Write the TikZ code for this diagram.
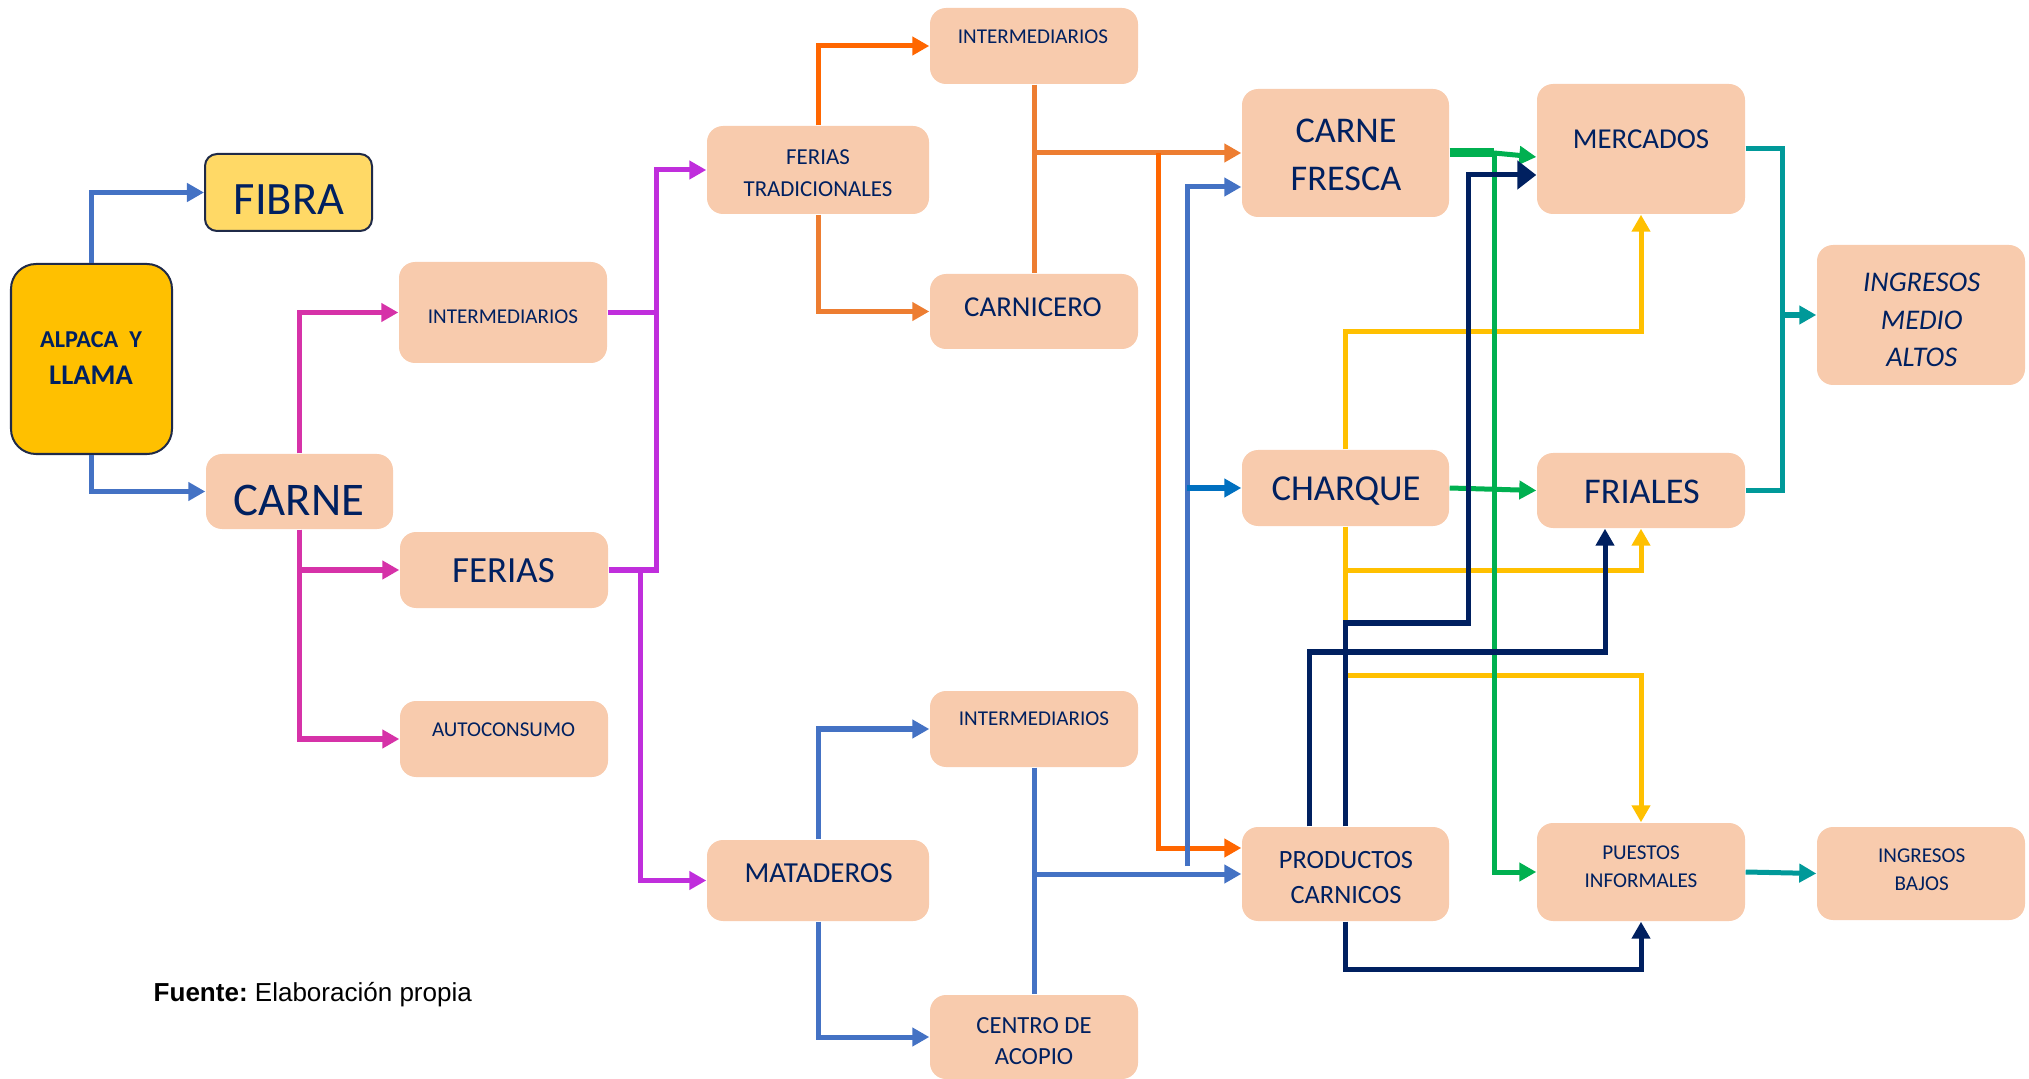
\documentclass[tikz,border=0pt]{standalone}
\usepackage{fontspec}
\setmainfont{Carlito}
\newfontfamily\arialf{Liberation Sans}
\usetikzlibrary{fit,arrows.meta,calc}
\newcommand\myfs[2]{\fontsize{#1pt}{#2pt}\selectfont}
\frenchspacing
\definecolor{peach}{RGB}{248,203,173}
\definecolor{gold}{RGB}{255,192,0}
\definecolor{lgold}{RGB}{255,217,102}
\definecolor{edge}{RGB}{31,42,72}
\definecolor{txtc}{RGB}{0,32,96}
\definecolor{cblue}{RGB}{68,114,196}
\definecolor{cblue2}{RGB}{0,112,192}
\definecolor{cpink}{RGB}{214,50,168}
\definecolor{cpurp}{RGB}{192,46,220}
\definecolor{corA}{RGB}{255,102,0}
\definecolor{corB}{RGB}{237,125,49}
\definecolor{cgreen}{RGB}{0,176,80}
\definecolor{cyell}{RGB}{255,192,0}
\definecolor{cnavy}{RGB}{0,32,96}
\definecolor{cteal}{RGB}{0,153,153}
\begin{document}
\begin{tikzpicture}[x=0.01cm,y=-0.01cm,
  pbox/.style={fill=peach,rounded corners=0.16cm,inner sep=0pt},
  txt/.style={text=txtc,align=center,inner sep=0pt},
  ln/.style={line width=0.05cm},
  arr/.style={-{Triangle[length=0.17cm,width=0.18cm]}}]
\useasboundingbox (0,0) rectangle (2029,1079);
% boxes
\node[fill=gold,draw=edge,line width=0.02cm,rounded corners=0.25cm,inner sep=0pt,fit={(11,264) (172,454)}] (alp) {};
\node[fill=lgold,draw=edge,line width=0.02cm,rounded corners=0.12cm,inner sep=0pt,fit={(205,154) (372,231)}] (fib) {};
\node[pbox,fit={(206,454) (393,529)}] (car) {};
\node[pbox,fit={(399,262) (607,363)}] (im1) {};
\node[pbox,fit={(400,532) (608,608)}] (fer) {};
\node[pbox,fit={(400,701) (608,777)}] (aut) {};
\node[pbox,fit={(707,126) (929,214)}] (ft) {};
\node[pbox,fit={(930,8) (1138,84)}] (imt) {};
\node[pbox,fit={(930,274) (1138,349)}] (carn) {};
\node[pbox,fit={(707,840) (929,921)}] (mat) {};
\node[pbox,fit={(930,691) (1138,767)}] (imb) {};
\node[pbox,fit={(930,995) (1138,1079)}] (cen) {};
\node[pbox,fit={(1242,89) (1449,217)}] (cf) {};
\node[pbox,fit={(1242,450) (1449,526)}] (ch) {};
\node[pbox,fit={(1242,827) (1449,921)}] (pc) {};
\node[pbox,fit={(1537,84) (1745,214)}] (mer) {};
\node[pbox,fit={(1537,453) (1745,528)}] (fr) {};
\node[pbox,fit={(1537,823) (1745,921)}] (pi) {};
\node[pbox,fit={(1817,245) (2025,385)}] (ima) {};
\node[pbox,fit={(1817,827) (2025,920)}] (ib) {};
% texts
\node[txt,font=\myfs{6.9}{8}\bfseries] (alpt1) at (91,340) {ALPACA\ \ Y};
\node[txt,font=\myfs{8.1}{9}\bfseries] (alpt2) at (91,375) {LLAMA};
\node[txt,font=\myfs{13.2}{15}] (fibt) at (289,200) {FIBRA};
\node[txt,font=\myfs{13.3}{15}] (cart) at (299,500) {CARNE};
\node[txt,font=\myfs{6}{7}] (im1t) at (503,317) {INTERMEDIARIOS};
\node[txt,font=\myfs{10.5}{12}] (fert) at (503.5,571) {FERIAS};
\node[txt,font=\myfs{6}{7}] (autt) at (503.5,730) {AUTOCONSUMO};
\node[txt,font=\myfs{6.5}{9.1}] (ftt) at (818,173) {FERIAS\\TRADICIONALES};
\node[txt,font=\myfs{6}{7}] (imtt) at (1033,37) {INTERMEDIARIOS};
\node[txt,font=\myfs{8.2}{9}] (carnt) at (1033,307) {CARNICERO};
\node[txt,font=\myfs{8.25}{9}] (matt) at (818.6,873) {MATADEROS};
\node[txt,font=\myfs{6}{7}] (imbt) at (1034,719) {INTERMEDIARIOS};
\node[txt,font=\myfs{7}{8.8}] (cent) at (1034,1041.5) {CENTRO DE\\ACOPIO};
\node[txt,font=\myfs{10.3}{13.7}] (cft) at (1346,155) {CARNE\\FRESCA};
\node[txt,font=\myfs{10.4}{12},text depth=0pt] (cht) at (1346,489) {CHARQUE};
\node[txt,font=\myfs{7.5}{9.7}] (pct) at (1346,877.5) {PRODUCTOS\\CARNICOS};
\node[txt,font=\myfs{8.2}{9}] (mert) at (1641,139) {MERCADOS};
\node[txt,font=\myfs{10.3}{12}] (frt) at (1642,492) {FRIALES};
\node[txt,font=\myfs{6}{8}] (pit) at (1641,867) {PUESTOS\\INFORMALES};
\node[txt,font=\myfs{8.1}{10.7}\itshape] (imat) at (1921.7,320) {INGRESOS\\MEDIO\\ALTOS};
\node[txt,font=\myfs{6}{8}] (ibt) at (1921.7,870) {INGRESOS\\BAJOS};
\node[anchor=base west,inner sep=0pt,font=\arialf\myfs{7.4}{9}] (src) at (153,1001) {\textbf{Fuente:} Elaboración propia};
% coordinates
\coordinate (pA) at (656,312.5);
\coordinate (pB) at (656,570);
\coordinate (pC) at (640,570);
\coordinate (oJ) at (1034,153);
\coordinate (oB) at (1158,153);
\coordinate (bJ) at (1187,866);
\coordinate (bC) at (1187,488);
\coordinate (gJ) at (1494,153);
\coordinate (tA) at (1782,149);
\coordinate (tB) at (1782,490.5);
\coordinate (tC) at (1782,315);
% blue from alpaca
\draw[ln,cblue,arr] (alp.north) |- (fib);
\draw[ln,cblue,arr] (alp.south) |- (car);
% pink
\draw[ln,cpink,arr] (car.north) |- (im1);
\draw[ln,cpink,arr] (car.south) |- (fer);
\draw[ln,cpink,arr] (car.south) |- (aut);
% purple
\draw[ln,cpurp,arr] (im1.east) -- (pA) |- (ft);
\draw[ln,cpurp] (fer.east) -- (pB) -- (pA);
\draw[ln,cpurp,arr] (pC) |- (mat);
% orange
\draw[ln,corA,arr] (ft.north) |- (imt);
\draw[ln,corB,arr] (ft.south) |- (carn);
\draw[ln,corB] (imt.south) -- (carn.north);
\draw[ln,corB,arr] (oJ) -- (cf.west);
\draw[ln,corA,arr] (oB) |- ($(pc.west)+(0,-26)$);
% blue from mataderos
\draw[ln,cblue,arr] (mat.north) |- (imb);
\draw[ln,cblue,arr] (mat.south) |- (cen);
\draw[ln,cblue] (imb.south) -- (cen.north);
\draw[ln,cblue,arr] (imb.south |- pc.west) -- (pc.west);
\draw[ln,cblue,arr] (bJ) |- ($(cf.west)+(0,34)$);
\draw[ln,cblue2,arr] (bC) -- (ch.west);
% yellow
\draw[ln,cyell,arr] (ch.north) -- ++(0,-118) -| (mer.south);
\draw[ln,cyell,arr] (ch.south) -- ++(0,44) -| (fr.south);
\draw[ln,cyell,arr] (ch.south) -- ++(0,149) -| (pi.north);
% green
\draw[line width=0.09cm,cgreen] (cf.east) -- (gJ);
\draw[ln,cgreen,arr] (gJ) -- ($(mer.west)+(0,8)$);
\draw[ln,cgreen,arr] (gJ) |- (pi);
\draw[ln,cgreen,arr] (ch.east) -- (fr.west);
% navy
\draw[ln,cnavy,-{Triangle[length=0.19cm,width=0.28cm]}] (pc.north) |- (1468,623) |- ($(mer.west)+(0,26)$);
\draw[ln,cnavy,arr] ($(pc.north)+(-36,0)$) |- (1605,652) -- ($(fr.south)+(-36,0)$);
\draw[ln,cnavy,arr] (pc.south) -- ++(0,48) -| (pi.south);
% teal
\draw[ln,cteal] (mer.east) -- (tA) -- (tB) -- (fr.east);
\draw[ln,cteal,arr] (tC) -- (ima.west);
\draw[ln,cteal,arr] (pi.east) -- (ib.west);
\end{tikzpicture}
\end{document}
